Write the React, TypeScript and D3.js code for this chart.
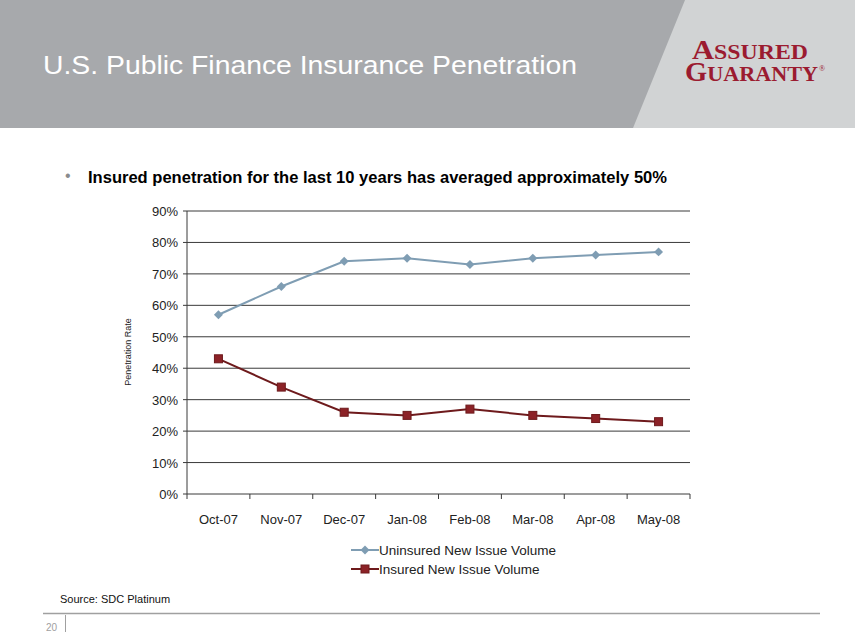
import React from "react";
import * as d3 from "d3";

const categories = ["Oct-07", "Nov-07", "Dec-07", "Jan-08", "Feb-08", "Mar-08", "Apr-08", "May-08"];
const uninsured = [57, 66, 74, 75, 73, 75, 76, 77];
const insured = [43, 34, 26, 25, 27, 25, 24, 23];
const yTicks = [0, 10, 20, 30, 40, 50, 60, 70, 80, 90];
const seriesNames = ["Uninsured New Issue Volume", "Insured New Issue Volume"];

const W = 855;
const H = 644;
const FONT = "Liberation Sans, Arial, sans-serif";
const SERIF = "Liberation Serif, Times New Roman, serif";

export default function App() {
  const x = d3.scaleBand().domain(categories).range([187, 690]).padding(0);
  const y = d3.scaleLinear().domain([0, 90]).range([494, 211]);
  const cx = (c: string) => (x(c) as number) + x.bandwidth() / 2;

  const line = d3
    .line<number>()
    .x((_, i) => cx(categories[i]))
    .y((d) => y(d));

  const uColor = "#7f9db3";
  const iColor = "#6e1a1c";
  const iFill = "#8c2227";
  const diamond = d3.symbol().type(d3.symbolSquare).size(40)() as string;

  const boundaries = categories.map((c) => x(c) as number).concat([690]);

  return (
    <svg
      width={W}
      height={H}
      style={{ position: "absolute", left: 0, top: 0, background: "#fff" }}
      fontFamily={FONT}
    >
      {/* header */}
      <rect x={0} y={0} width={W} height={128} fill="#a7a9ac" />
      <polygon points={`685,0 ${W},0 ${W},128 633,128`} fill="#d1d3d4" />
      <text x={43} y={74} fill="#ffffff" fontSize={26} textLength={534} lengthAdjust="spacingAndGlyphs">
        U.S. Public Finance Insurance Penetration
      </text>
      <text x={692} y={59} fill="#9b1b30" fontFamily={SERIF} fontSize={21} fontWeight="bold" textLength={116} lengthAdjust="spacingAndGlyphs">
        <tspan fontSize={27}>A</tspan>SSURED
      </text>
      <text x={685} y={81} fill="#9b1b30" fontFamily={SERIF} fontSize={21} fontWeight="bold" textLength={133} lengthAdjust="spacingAndGlyphs">
        <tspan fontSize={27}>G</tspan>UARANTY
      </text>
      <text x={819} y={71} fill="#9b1b30" fontFamily={SERIF} fontSize={8}>®</text>

      {/* bullet */}
      <text x={65} y={181} fill="#8a8c8e" fontSize={16}>•</text>
      <text x={88} y={183} fill="#000" fontSize={16.5} fontWeight="bold" textLength={579} lengthAdjust="spacingAndGlyphs">
        Insured penetration for the last 10 years has averaged approximately 50%
      </text>

      {/* gridlines */}
      {yTicks.map((t) => (
        <g key={t}>
          <line x1={183} x2={690} y1={y(t)} y2={y(t)} stroke="#3a3a3a" strokeWidth={1} />
          <text x={178} y={y(t) + 5} textAnchor="end" fontSize={13} fill="#222">
            {t}%
          </text>
        </g>
      ))}
      <line x1={187} x2={187} y1={211} y2={494} stroke="#3a3a3a" />
      {boundaries.map((b, i) => (
        <line key={i} x1={b} x2={b} y1={494} y2={499} stroke="#3a3a3a" />
      ))}
      {categories.map((c) => (
        <text key={c} x={cx(c)} y={524} textAnchor="middle" fontSize={13} fill="#222">
          {c}
        </text>
      ))}
      <text
        transform={`translate(131,352) rotate(-90)`}
        textAnchor="middle"
        fontSize={9}
        fill="#222"
      >
        Penetration Rate
      </text>

      {/* series */}
      <path d={line(uninsured) as string} fill="none" stroke={uColor} strokeWidth={2} />
      {uninsured.map((v, i) => (
        <path key={i} d={diamond} transform={`translate(${cx(categories[i])},${y(v)}) rotate(45)`} fill={uColor} />
      ))}
      <path d={line(insured) as string} fill="none" stroke={iColor} strokeWidth={2} />
      {insured.map((v, i) => (
        <rect
          key={i}
          x={cx(categories[i]) - 4}
          y={y(v) - 4}
          width={8}
          height={8}
          fill={iFill}
          stroke={iColor}
          strokeWidth={1}
        />
      ))}

      {/* legend */}
      <g>
        <line x1={351} x2={379} y1={550} y2={550} stroke={uColor} strokeWidth={2} />
        <path d={diamond} transform={`translate(365,550) rotate(45)`} fill={uColor} />
        <text x={379} y={555} fontSize={13.5} fill="#222">{seriesNames[0]}</text>
        <line x1={351} x2={379} y1={569} y2={569} stroke={iColor} strokeWidth={2} />
        <rect x={361} y={565} width={8} height={8} fill={iFill} stroke={iColor} />
        <text x={379} y={574} fontSize={13.5} fill="#222">{seriesNames[1]}</text>
      </g>

      {/* footer */}
      <text x={60} y={603} fontSize={11} fill="#111">Source: SDC Platinum</text>
      <line x1={43} x2={820} y1={613.5} y2={613.5} stroke="#a0a0a0" strokeWidth={1.5} />
      <line x1={65.5} x2={65.5} y1={615} y2={632} stroke="#a0a0a0" />
      <text x={46} y={631} fontSize={10} fill="#a0a0a0">20</text>
    </svg>
  );
}
